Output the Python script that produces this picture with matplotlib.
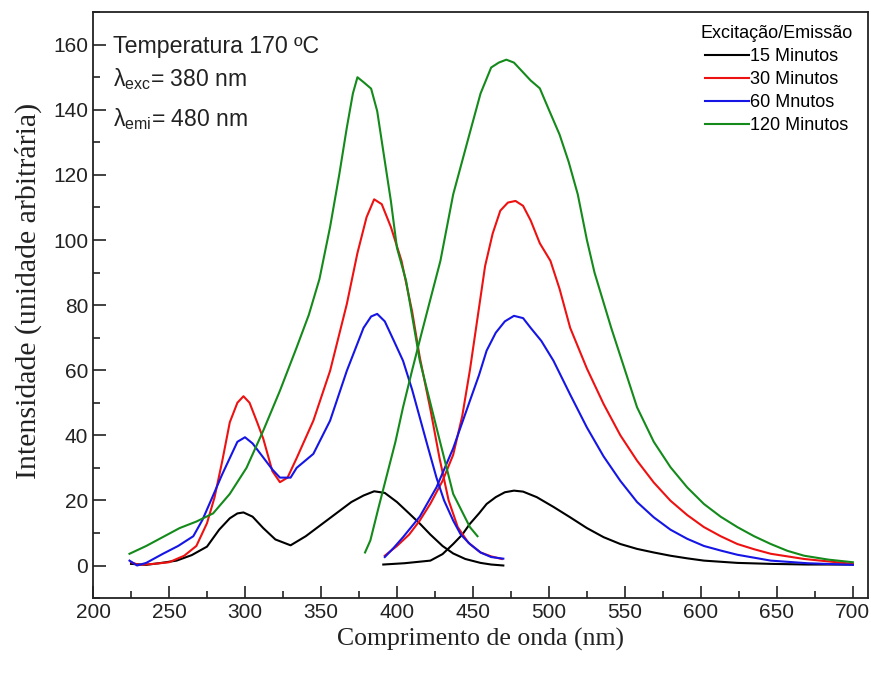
import matplotlib
matplotlib.use('Agg')
import matplotlib.pyplot as plt
from matplotlib.ticker import MultipleLocator

plt.rcParams['font.family'] = ['Liberation Sans', 'DejaVu Sans']
plt.rcParams['mathtext.fontset'] = 'custom'
plt.rcParams['mathtext.rm'] = 'Liberation Sans'
plt.rcParams['mathtext.it'] = 'Liberation Sans:italic'

# excitation spectra (emission fixed at 480 nm)
ex15_x = [225, 235, 245, 255, 265, 275, 283, 290, 295, 299, 305, 312, 320, 330, 340, 350, 360, 370,
          378, 385, 392, 400, 408, 415, 422, 430, 437, 445, 455, 462, 470]
ex15_y = [0.5, 0.2, 0.8, 1.5, 3.2, 5.8, 11, 14.5, 16, 16.3, 15, 11.5, 8, 6.2, 9, 12.5, 16, 19.5,
          21.5, 22.8, 22.3, 19.5, 16, 12.9, 9.5, 6, 3.7, 2, 0.8, 0.3, 0]

ex30_x = [225, 230, 240, 250, 260, 268, 275, 280, 285, 290, 295, 299, 303, 308, 312, 318, 323, 328,
          334, 345, 356, 367, 374, 380, 385, 390, 396, 403, 410, 415, 422, 428, 434, 440, 447, 455,
          462, 469]
ex30_y = [1, 0.2, 0.5, 1, 3, 6, 13, 21, 32, 44, 50, 52, 50, 44, 39, 29, 25.6, 27,
          33, 44.5, 59.8, 80.3, 96, 107, 112.5, 111, 104, 93.6, 78, 64, 48, 33, 20, 11.8, 7, 4,
          2.8, 2]

ex60_x = [224, 229, 235, 246, 256, 266, 272, 279, 285, 290, 295, 300, 305, 312, 318, 323, 330, 334,
          345, 356, 367, 378, 383, 387, 392, 398, 404, 410, 415, 420, 426, 431, 437, 442, 448, 455,
          462, 470]
ex60_y = [1.5, 0, 0.8, 3.6, 6, 9, 14, 21.5, 28, 33, 38, 39.4, 37.5, 33.2, 29.5, 27, 27, 30,
          34.3, 44.5, 59.8, 73, 76.5, 77.3, 75, 69, 62.9, 54, 45.5, 37, 27, 20, 13.8, 9.5, 6.6, 4,
          2.6, 2.1]

ex120_x = [224, 235, 245, 257, 268, 279, 290, 301, 312, 323, 334, 342, 349, 356, 362, 367, 371, 374,
           378, 383, 387, 391, 396, 400, 406, 415, 426, 437, 448, 453]
ex120_y = [3.6, 6, 8.5, 11.5, 13.5, 16, 22, 30, 41.4, 53.7, 67, 77, 88, 104, 120, 134.5, 145, 150,
           148.5, 146.5, 139.6, 127.3, 112, 97.6, 87.5, 63, 42.4, 22, 11.8, 9]

# emission spectra (excitation fixed at 380 nm)
em15_x = [391, 405, 422, 430, 437, 443, 448, 454, 459, 465, 471, 477, 483, 492, 503, 514, 525, 536,
          547, 558, 569, 580, 591, 602, 624, 646, 670, 700]
em15_y = [0.3, 0.7, 1.5, 3.5, 6.6, 9.5, 12.8, 16, 18.9, 21, 22.5, 23, 22.7, 21, 18, 14.8, 11.5, 8.7,
          6.6, 5.1, 4, 3, 2.2, 1.5, 0.8, 0.5, 0.3, 0.3]

em30_x = [392, 400, 408, 415, 422, 430, 437, 443, 448, 453, 458, 463, 468, 473, 478, 483, 488, 494,
          501, 507, 514, 525, 536, 547, 558, 569, 580, 591, 602, 613, 624, 635, 646, 668, 700]
em30_y = [3, 6, 9.5, 13.8, 19, 26, 34, 46, 60, 76, 92, 102, 109, 111.5, 112, 110.5, 106, 99,
          93.6, 85, 73, 60.5, 49.6, 40, 32.2, 25.5, 19.9, 15.5, 11.8, 9, 6.6, 5, 3.6, 2, 0.5]

em60_x = [392, 398, 404, 415, 426, 437, 448, 454, 459, 465, 471, 477, 483, 488, 495, 503, 514, 525,
          536, 547, 558, 569, 580, 591, 602, 613, 624, 646, 670, 700]
em60_y = [2.6, 5.5, 8.7, 15, 24, 36, 50.6, 58.5, 66, 71.5, 75, 76.7, 76, 73, 69, 62.9, 52.5, 42.4,
          33.5, 26, 19.5, 14.8, 11, 8.2, 6, 4.6, 3.3, 1.5, 0.7, 0.2]

em120_x = [379, 382.5, 388, 393.5, 399, 404, 410, 416, 421, 428.6, 437, 448, 455, 462, 467, 472,
           477, 482, 488, 494, 500, 507, 513, 519, 525, 530, 541, 558, 569, 580, 591, 602, 613, 624,
           635, 646, 657, 668, 684, 700]
em120_y = [4, 7.7, 18, 28, 38, 48.6, 60, 71, 80, 93.6, 114, 133, 145, 153, 154.5, 155.4,
           154.5, 152, 149, 146.6, 140, 132.4, 124, 114, 100, 90, 73, 48.6, 38, 30.2, 24, 18.9, 15,
           11.8, 9, 6.6, 4.5, 3, 1.8, 1]

labels = ['15 Minutos', '30 Minutos', '60 Mnutos', '120 Minutos']
colors = ['black', '#ee1111', '#1515e6', '#138a1a']

fig = plt.figure(figsize=(8.71, 6.75), dpi=100)
ax = fig.add_axes([0.1068, 0.114, 0.8898, 0.868])

ex = [(ex15_x, ex15_y), (ex30_x, ex30_y), (ex60_x, ex60_y), (ex120_x, ex120_y)]
em = [(em15_x, em15_y), (em30_x, em30_y), (em60_x, em60_y), (em120_x, em120_y)]
for (xe, ye), (xm, ym), c, lab in zip(ex, em, colors, labels):
    ax.plot(xe, ye, color=c, lw=1.5, label=lab)
    ax.plot(xm, ym, color=c, lw=1.5)

ax.set_xlim(200, 710)
ax.set_ylim(-10, 170)
ax.xaxis.set_major_locator(MultipleLocator(50))
ax.xaxis.set_minor_locator(MultipleLocator(25))
ax.yaxis.set_major_locator(MultipleLocator(20))
ax.yaxis.set_minor_locator(MultipleLocator(10))
ax.tick_params(which='both', direction='in', width=1.2, labelsize=15, colors='#222222')
ax.tick_params(which='major', length=9)
ax.tick_params(which='minor', length=5)
for s in ax.spines.values():
    s.set_linewidth(1.3)
    s.set_color('#222222')

ax.set_xlabel('Comprimento de onda (nm)', family='Liberation Serif', fontsize=18.5, color='#222222')
ax.set_ylabel('Intensidade (unidade arbitrária)', family='Liberation Serif', fontsize=21.5,
              color='#222222')
ax.yaxis.set_label_coords(-0.066, 0.525)

ax.text(0.026, 0.942, 'Temperatura 170 ºC', transform=ax.transAxes, fontsize=16.7, va='center',
        color='#222222')
ax.text(0.026, 0.885, r'λ$_{\mathrm{exc}}$= 380 nm', transform=ax.transAxes, fontsize=16.5,
        va='center', color='#222222')
ax.text(0.026, 0.818, r'λ$_{\mathrm{emi}}$= 480 nm', transform=ax.transAxes, fontsize=16.5,
        va='center', color='#222222')

leg = ax.legend(title='Excitação/Emissão', loc='upper right', bbox_to_anchor=(0.99, 0.99),
                borderaxespad=0, frameon=False, fontsize=13, title_fontsize=13,
                handlelength=2.4, handletextpad=0.1, labelspacing=0.33)

fig.savefig('out.png', dpi=100)
